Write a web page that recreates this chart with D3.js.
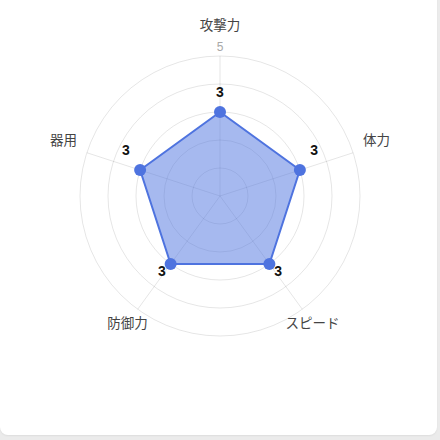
<!DOCTYPE html>
<html>
<head>
<meta charset="utf-8">
<script src="https://cdn.jsdelivr.net/npm/d3@7"></script>
<style>
  html, body { margin: 0; padding: 0; width: 440px; height: 440px; overflow: hidden; background: #ebebeb; }
  #card { position: absolute; left: 0; top: -20px; width: 437px; height: 455px; background: #fff; border-radius: 8px; box-shadow: 0 1px 2px rgba(0,0,0,0.06); }
  svg { position: absolute; left: 0; top: 0; }
</style>
</head>
<body>
<div id="card"></div>
<svg id="chart" width="440" height="440"></svg>
<script>
const categories = ["攻撃力", "体力", "スピード", "防御力", "器用"];
const values = [3, 3, 3, 3, 3];
const ringValues = [1, 2, 3, 4, 5];
const tickLabels = ["", "", "", "", "5"];
const maxValue = 5;

const cx = 220, cy = 196, R = 140;
const color = "#4e73df";
const svg = d3.select("#chart");
const g = svg.append("g").attr("transform", `translate(${cx},${cy})`);
const r = d3.scaleLinear().domain([0, maxValue]).range([0, R]);
const angle = d3.scaleLinear().domain([0, categories.length]).range([0, 2 * Math.PI]);

// rings
g.selectAll("circle.ring").data(ringValues).join("circle")
  .attr("class", "ring").attr("r", d => r(d))
  .attr("fill", "none").attr("stroke", "rgba(0,0,0,0.1)").attr("stroke-width", 1);

// spokes
g.selectAll("line.spoke").data(categories).join("line")
  .attr("class", "spoke")
  .attr("x1", 0).attr("y1", 0)
  .attr("x2", (d, i) => r(maxValue) * Math.sin(angle(i)))
  .attr("y2", (d, i) => -r(maxValue) * Math.cos(angle(i)))
  .attr("stroke", "rgba(0,0,0,0.1)").attr("stroke-width", 1);

// polygon
const radial = d3.lineRadial().angle((d, i) => angle(i)).radius(d => r(d)).curve(d3.curveLinearClosed);
g.append("path").datum(values).attr("d", radial)
  .attr("fill", color).attr("fill-opacity", 0.5)
  .attr("stroke", color).attr("stroke-width", 2).attr("stroke-linejoin", "round");

// points
const px = (v, i) => r(v) * Math.sin(angle(i));
const py = (v, i) => -r(v) * Math.cos(angle(i));
g.selectAll("circle.pt").data(values).join("circle")
  .attr("class", "pt").attr("r", 6)
  .attr("cx", (d, i) => px(d, i)).attr("cy", (d, i) => py(d, i))
  .attr("fill", color);

// value labels
g.selectAll("text.val").data(values).join("text")
  .attr("class", "val")
  .attr("x", (d, i) => px(d, i) + 15 * Math.sin(angle(i)))
  .attr("y", (d, i) => py(d, i) + (-Math.cos(angle(i)) > 0 ? 12 : -15))
  .attr("text-anchor", "middle")
  .attr("font-family", "Liberation Sans, Arial, sans-serif")
  .attr("font-weight", "bold").attr("font-size", 14).attr("fill", "#111")
  .text(d => d);

// tick labels
g.selectAll("text.tick").data(ringValues).join("text")
  .attr("class", "tick")
  .attr("x", 0).attr("y", d => -r(d) - 5)
  .attr("text-anchor", "middle")
  .attr("font-family", "Liberation Sans, Arial, sans-serif")
  .attr("font-size", 12).attr("fill", "#a8a8a8")
  .text((d, i) => tickLabels[i]);

// category labels
g.selectAll("text.cat").data(categories).join("text")
  .attr("class", "cat")
  .attr("x", (d, i) => { const a = angle(i); return (165 + 5 * Math.cos(a)) * Math.sin(a) - 2 * Math.sign(Math.round(Math.sin(a) * 100)); })
  .attr("y", (d, i) => { const a = angle(i); return -(165 + 5 * Math.cos(a)) * Math.cos(a) - 4 * Math.abs(Math.sin(a)) - 2; })
  .attr("text-anchor", "middle").attr("dominant-baseline", "central")
  .attr("font-family", "Noto Sans CJK JP, sans-serif")
  .attr("font-size", 13.5).attr("fill", "#444")
  .text(d => d);
</script>
</body>
</html>
